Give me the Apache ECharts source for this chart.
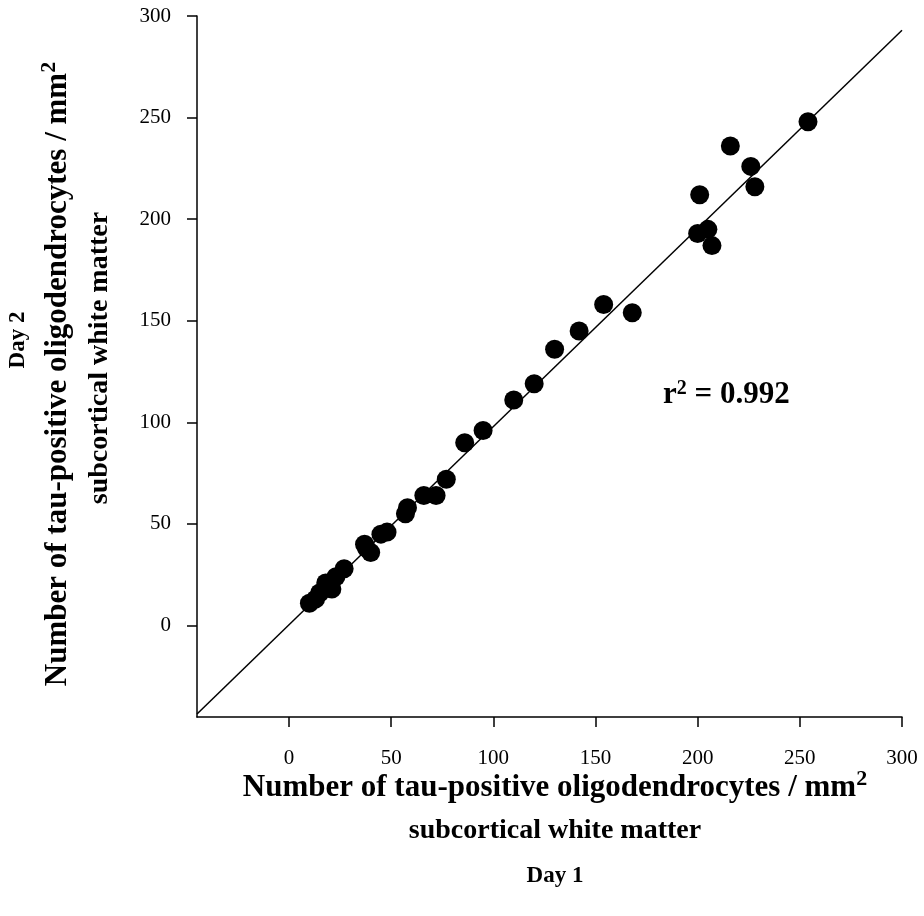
<!DOCTYPE html>
<html>
    <head>
        <title>Day 1 vs Day 2</title>
        <script src="https://cdn.jsdelivr.net/npm/echarts@6/dist/echarts.min.js"></script>
        <style>
            body { margin: 0; background: #fff; }
        </style>
    </head>
    <body>
        <div id="chart" style="width: 924px;height: 916px;"></div>
        <script>
            // day 1 counts (x) and day 2 counts (y)
            var day1 = [10, 13, 15, 18, 21, 23, 27, 37, 38, 40, 45, 48, 57, 58, 66, 72, 77, 86, 95, 110, 120, 130, 142, 154, 168, 200, 201, 205, 207, 216, 226, 228, 254];
            var day2 = [11, 13, 16, 21, 18, 24, 28, 40, 38, 36, 45, 46, 55, 58, 64, 64, 72, 90, 96, 111, 119, 136, 145, 158, 154, 193, 212, 195, 187, 236, 226, 216, 248];
            // regression line end points
            var fitX = [-45, 300];
            var fitY = [-43.5, 293];
            var tickValues = [0, 50, 100, 150, 200, 250, 300];

            var points = day1.map(function (x, i) { return [x, day2[i]]; });
            var fitLine = fitX.map(function (x, i) { return [x, fitY[i]]; });

            var serif = '"Liberation Serif", "Times New Roman", serif';

            var myChart = echarts.init(document.getElementById('chart'));

            var axisCommon = {
                type: 'value',
                min: -45,
                max: 300,
                axisLine: { show: true, onZero: false, lineStyle: { color: '#000', width: 1.5 } },
                axisTick: { show: true, customValues: tickValues, length: 10, inside: false, lineStyle: { color: '#000', width: 1.5 } },
                splitLine: { show: false },
                axisLabel: { customValues: tickValues, color: '#000', fontFamily: serif, fontSize: 21 }
            };

            var option = {
                animation: false,
                grid: { left: 197, right: 22, top: 15, bottom: 199 },
                xAxis: echarts.util.merge({ axisLabel: { margin: 25 } }, axisCommon),
                yAxis: echarts.util.merge({ axisLabel: { margin: 26 } }, axisCommon),
                series: [{
                    type: 'line',
                    data: fitLine,
                    symbol: 'none',
                    z: 2,
                    lineStyle: { color: '#000', width: 1.5 }
                }, {
                    type: 'scatter',
                    data: points,
                    symbolSize: 19,
                    z: 3,
                    itemStyle: { color: '#000', opacity: 1 }
                }],
                graphic: [{
                    type: 'text', left: 663, top: 370,
                    style: {
                        text: 'r{sup|2} = 0.992',
                        font: 'bold 31px ' + serif,
                        fill: '#000',
                        rich: { sup: { font: 'bold 20px ' + serif, padding: [0, 0, 12, 0] } }
                    }
                }, {
                    type: 'text', x: 555, y: 788,
                    style: {
                        text: 'Number of tau-positive oligodendrocytes / mm{sup|2}',
                        font: 'bold 31px ' + serif, fill: '#000', align: 'center', verticalAlign: 'middle',
                        rich: { sup: { font: 'bold 22px ' + serif, padding: [0, 0, 18, 0] } }
                    }
                }, {
                    type: 'text', x: 555, y: 831,
                    style: { text: 'subcortical white matter', font: 'bold 28px ' + serif, fill: '#000', align: 'center', verticalAlign: 'middle' }
                }, {
                    type: 'text', x: 555, y: 876,
                    style: { text: 'Day 1', font: 'bold 23px ' + serif, fill: '#000', align: 'center', verticalAlign: 'middle' }
                }, {
                    type: 'text', x: 58, y: 374, rotation: Math.PI / 2,
                    style: {
                        text: 'Number of tau-positive oligodendrocytes / mm{sup|2}',
                        font: 'bold 31px ' + serif, fill: '#000', align: 'center', verticalAlign: 'middle',
                        rich: { sup: { font: 'bold 22px ' + serif, padding: [0, 0, 18, 0] } }
                    }
                }, {
                    type: 'text', x: 100, y: 358, rotation: Math.PI / 2,
                    style: { text: 'subcortical white matter', font: 'bold 28px ' + serif, fill: '#000', align: 'center', verticalAlign: 'middle' }
                }, {
                    type: 'text', x: 18, y: 340, rotation: Math.PI / 2,
                    style: { text: 'Day 2', font: 'bold 23px ' + serif, fill: '#000', align: 'center', verticalAlign: 'middle' }
                }]
            };

            myChart.setOption(option);
        </script>
    </body>
</html>
